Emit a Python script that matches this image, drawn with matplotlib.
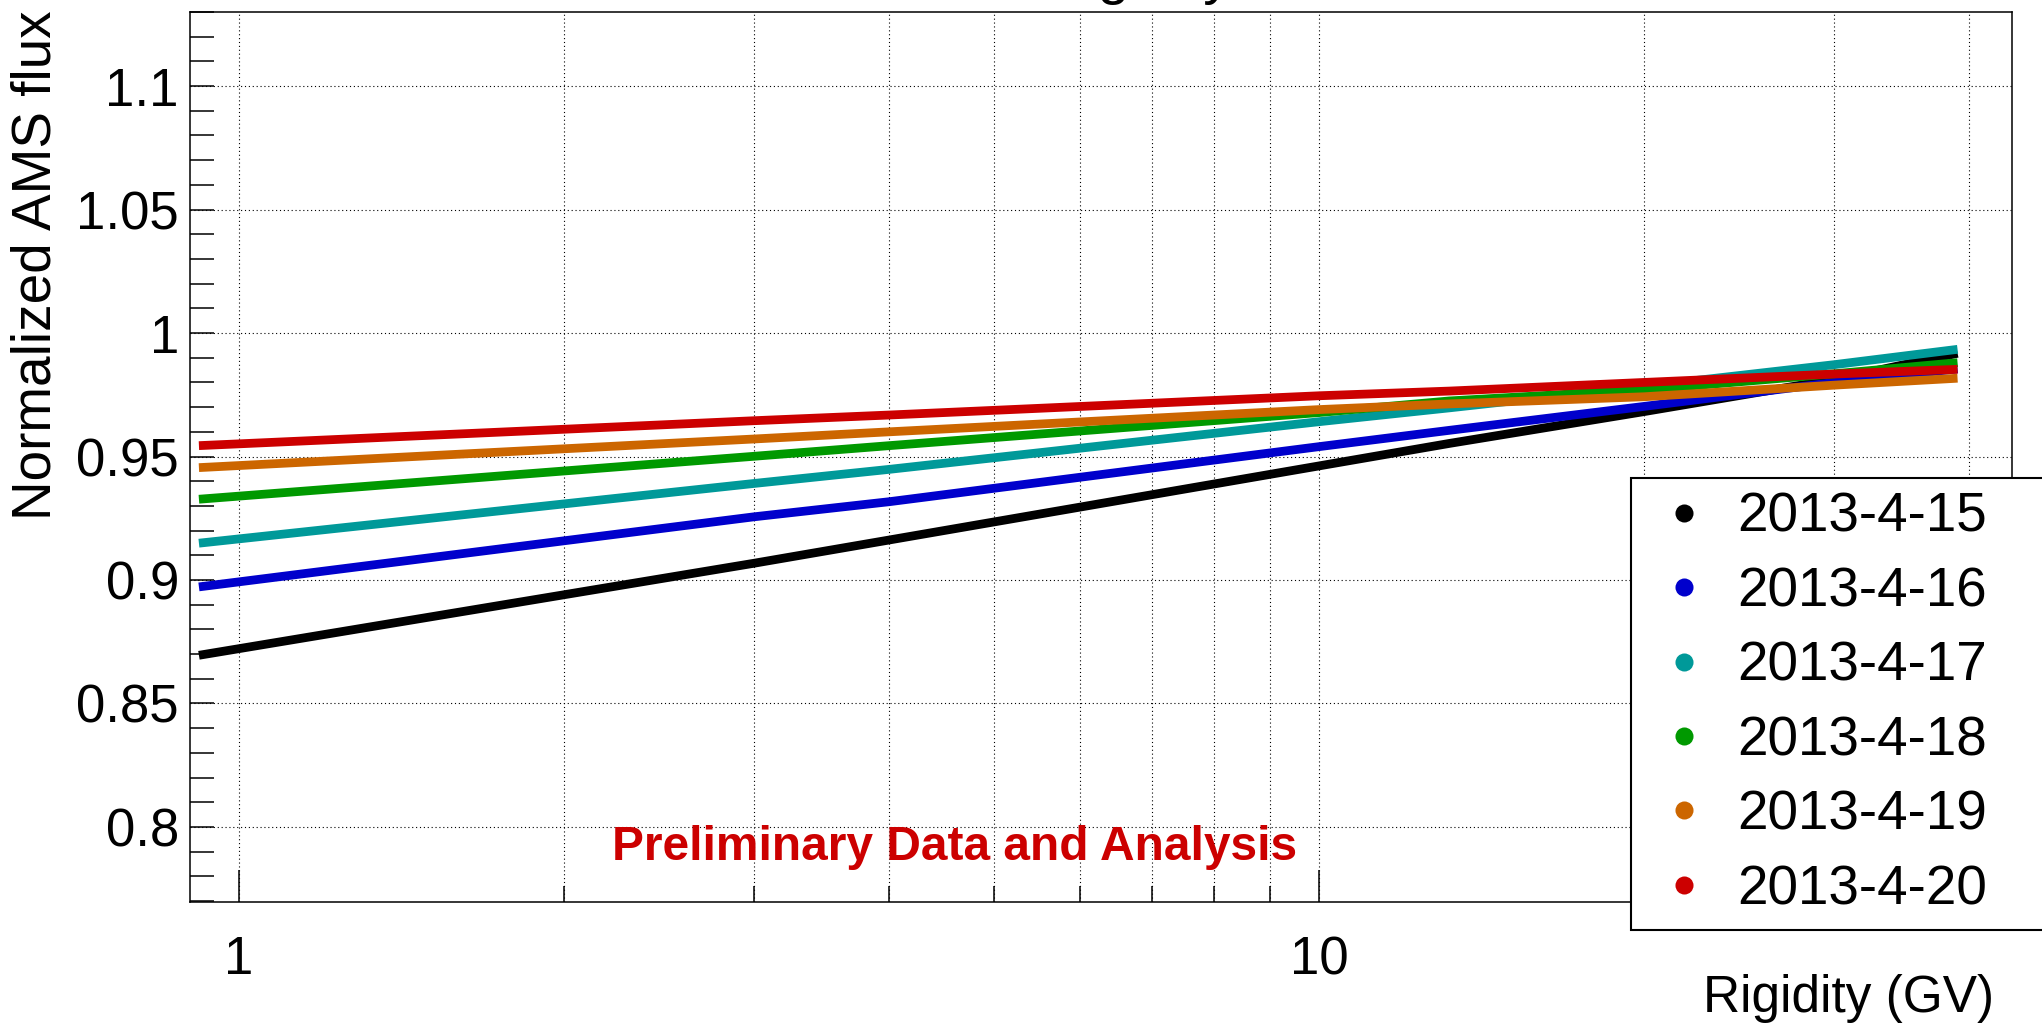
import matplotlib
matplotlib.use('Agg')
import matplotlib.pyplot as plt
from matplotlib.ticker import FixedLocator, MultipleLocator, NullFormatter
from matplotlib.lines import Line2D

# rigidity points (GV)
rigidity = [0.918, 3, 4, 10, 13.2, 20, 30, 39]

flux_0415 = [0.8695, 0.9068, 0.9162, 0.9462, 0.9553, 0.9682, 0.9812, 0.9918]
flux_0416 = [0.8972, 0.9256, 0.9317, 0.9540, 0.9606, 0.9703, 0.9800, 0.9855]
flux_0417 = [0.9149, 0.9391, 0.9448, 0.9641, 0.9697, 0.9784, 0.9872, 0.9934]
flux_0418 = [0.9327, 0.9501, 0.9544, 0.9678, 0.9725, 0.9770, 0.9835, 0.9880]
flux_0419 = [0.9455, 0.9571, 0.9600, 0.9690, 0.9713, 0.9742, 0.9789, 0.9817]
flux_0420 = [0.9544, 0.9645, 0.9668, 0.9746, 0.9765, 0.9800, 0.9834, 0.9853]

labels = ['2013-4-15', '2013-4-16', '2013-4-17', '2013-4-18', '2013-4-19', '2013-4-20']
colors = ['#000000', '#0000cc', '#009999', '#009900', '#cc6600', '#cc0000']

yticks = [0.8, 0.85, 0.9, 0.95, 1.0, 1.05, 1.1]
yticklabels = ['0.8', '0.85', '0.9', '0.95', '1', '1.05', '1.1']
xticks = [1, 10]
xticklabels = ['1', '10']
xminor = [2, 3, 4, 5, 6, 7, 8, 9, 20, 30, 40]


def main():
    plt.rcParams['font.family'] = ['Liberation Sans', 'DejaVu Sans']
    W, H = 2042, 1023
    fig = plt.figure(figsize=(W / 100, H / 100), dpi=100)
    ax = fig.add_axes([190 / W, (H - 902) / H, (2012 - 190) / W, (902 - 12) / H])

    series = [flux_0415, flux_0416, flux_0417, flux_0418, flux_0419, flux_0420]
    for vals, col in zip(series, colors):
        ax.plot(rigidity, vals, color=col, lw=6.3, solid_capstyle='butt')

    ax.set_xscale('log')
    ax.set_xlim(0.9007, 43.8)
    ax.set_ylim(0.7696, 1.130)

    ax.xaxis.set_major_locator(FixedLocator(xticks))
    ax.set_xticklabels(xticklabels)
    ax.xaxis.set_minor_locator(FixedLocator(xminor))
    ax.xaxis.set_minor_formatter(NullFormatter())
    ax.set_yticks(yticks)
    ax.set_yticklabels(yticklabels)
    ax.yaxis.set_minor_locator(MultipleLocator(0.01))

    ax.tick_params(axis='both', which='both', direction='in', top=False, right=False,
                   width=1.1, labelsize=38)
    ax.tick_params(axis='x', which='major', length=23, pad=24)
    ax.tick_params(axis='x', which='minor', length=11.5)
    ax.tick_params(axis='y', which='both', length=17.3, pad=8)

    grid_style = dict(color='black', linestyle=(0, (1, 2.5)), linewidth=0.8)
    ax.grid(True, which='major', axis='y', **grid_style)
    ax.grid(True, which='both', axis='x', **grid_style)
    ax.set_axisbelow(True)
    for s in ax.spines.values():
        s.set_linewidth(1.1)

    ax.text((612 - 190) / (2012 - 190), (902 - 860) / 890, 'Preliminary Data and Analysis',
            transform=ax.transAxes, color='#cc0000', fontsize=34.5, fontweight='bold',
            ha='left', va='baseline')

    handles = [Line2D([], [], linestyle='none', marker='o', markersize=13,
                      color=c, markeredgewidth=0) for c in colors]
    leg = ax.legend(handles, labels, loc='upper left', mode='expand',
                    bbox_to_anchor=(1631 / W, (H - 925) / H, (2080 - 1631) / W, (925 - 478) / H),
                    bbox_transform=fig.transFigure, fontsize=39.5, frameon=True,
                    fancybox=False, framealpha=1, edgecolor='black',
                    borderpad=0.25, handlelength=1.43, handletextpad=0.25,
                    labelspacing=0.41, borderaxespad=0)
    leg.get_frame().set_linewidth(1.5)

    fig.text(37 / W, 1 - 10 / H, 'Normalized AMS flux', rotation=90,
             ha='center', va='top', fontsize=39.5)
    fig.text(1994 / W, (H - 1012) / H, 'Rigidity (GV)', ha='right', va='baseline', fontsize=37)
    # title mostly cut off by the top of the canvas
    fig.text(1043 / W, 1 + 7 / H, 'Rigidity', ha='left', va='baseline', fontsize=41.5)

    fig.savefig('out.png', dpi=100)


if __name__ == '__main__':
    main()
